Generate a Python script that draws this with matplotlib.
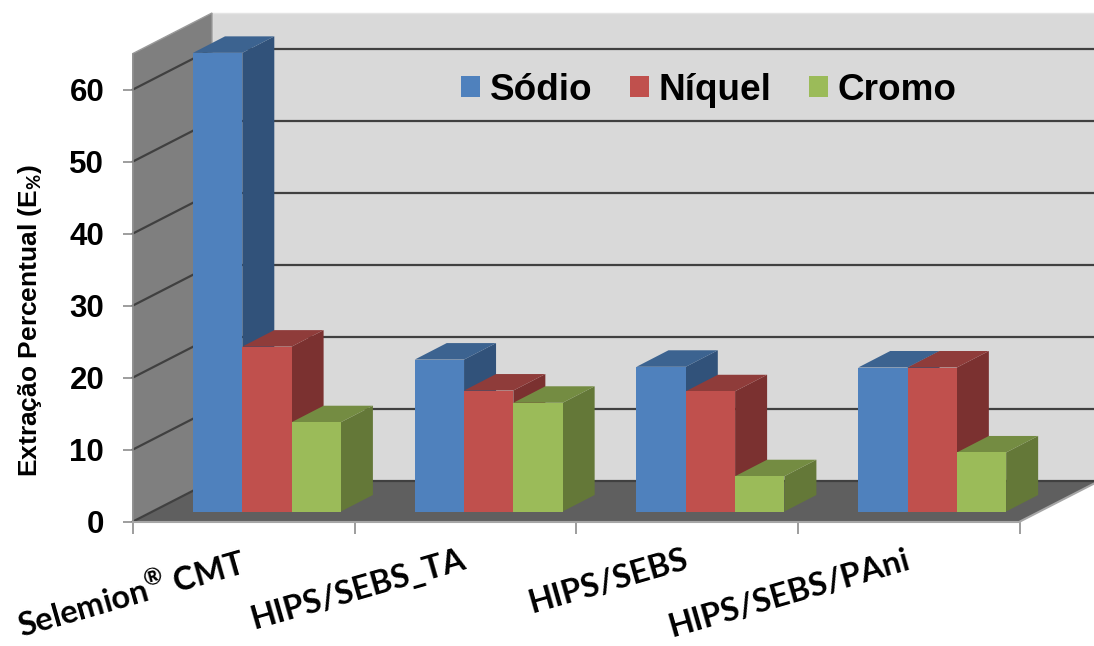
#!/usr/bin/env python3
import matplotlib
matplotlib.use("Agg")
import matplotlib.pyplot as plt
import numpy as np

categories = [r"Selemion$^{\mathbf{®}}$ CMT", "HIPS/SEBS_TA", "HIPS/SEBS", "HIPS/SEBS/PAni"]
sodio = [63.7, 21.1, 20.1, 20.0]
niquel = [22.9, 16.8, 16.7, 20.0]
cromo = [12.4, 15.1, 4.9, 8.2]
y_ticks = [0, 10, 20, 30, 40, 50, 60]

W, H = 1094, 646
X0, Y0 = 133, 521.5     # pixel position of the axis origin
PX_X = 221.75           # pixels per category
PX_Y = 7.2              # pixels per percent

# 3D look, all in data units
WALL_DX, WALL_DY = 79 / PX_X, 40.5 / PX_Y
BAR_DX, BAR_DY = 32 / PX_X, 16.5 / PX_Y
BAR_BASE = 10 / PX_Y
BAR_W = 49.3 / PX_X
GROUP_START = (193 - X0) / PX_X
TOP = 65.0

plt.rcParams["font.family"] = ["Liberation Sans", "DejaVu Sans"]
plt.rcParams["mathtext.fontset"] = "custom"
plt.rcParams["mathtext.bf"] = "Lato:bold"

fig = plt.figure(figsize=(W / 100, H / 100), dpi=100)
ax = fig.add_axes([0, 0, 1, 1])
ax.set_xlim(-X0 / PX_X, (W - X0) / PX_X)
ax.set_ylim((Y0 - H) / PX_Y, Y0 / PX_Y)
ax.patch.set_visible(False)

n = len(categories)

# walls and floor
ax.fill([WALL_DX, 10, 10, WALL_DX], [WALL_DY, WALL_DY, TOP + WALL_DY, TOP + WALL_DY],
        color="#D9D9D9", ec="#E4E4E4", lw=1, zorder=1)
ax.fill([0, WALL_DX, WALL_DX, 0], [0, WALL_DY, TOP + WALL_DY, TOP],
        color="#7F7F7F", ec="#9A9A9A", lw=1, zorder=2)
ax.fill([0, n, n + WALL_DX, WALL_DX], [0, 0, WALL_DY, WALL_DY],
        color="#5F5F5F", ec="none", zorder=2)
ax.plot([n, n + WALL_DX], [0, WALL_DY], color="#A6A6A6", lw=1.5, zorder=2)

# grid lines: side wall then back wall
for v in y_ticks:
    ax.plot([0, WALL_DX, 10], [v, v + WALL_DY, v + WALL_DY],
            color="#404040", lw=1.6, zorder=3, solid_joinstyle="miter")

series = [
    ("Sódio", sodio, "#4F81BD", "#31527A", "#3C6390"),
    ("Níquel", niquel, "#C0504D", "#7B3130", "#8F3C3A"),
    ("Cromo", cromo, "#9BBB59", "#647838", "#748C42"),
]

handles = []
z = 5
for i in range(n):
    for j, (name, values, front, side, top) in enumerate(series):
        left = i + GROUP_START + j * BAR_W
        right = left + BAR_W
        high = BAR_BASE + values[i]
        ax.fill([right, right + BAR_DX, right + BAR_DX, right],
                [BAR_BASE, BAR_BASE + BAR_DY, high + BAR_DY, high],
                color=side, ec="none", zorder=z)
        ax.fill([left, right, right + BAR_DX, left + BAR_DX],
                [high, high, high + BAR_DY, high + BAR_DY],
                color=top, ec="none", zorder=z)
        bar = ax.bar(left, values[i], BAR_W, bottom=BAR_BASE, align="edge",
                     color=front, label=name, zorder=z + 1)
        if i == 0:
            handles.append(bar)
        z += 2

# axes
for s in ["top", "right"]:
    ax.spines[s].set_visible(False)
ax.spines["left"].set_position(("data", 0))
ax.spines["bottom"].set_position(("data", 0))
ax.spines["left"].set_bounds(0, TOP)
ax.spines["bottom"].set_bounds(0, n)
ax.spines["left"].set_color("#8C8C8C")
ax.spines["bottom"].set_color("#A6A6A6")
ax.spines["left"].set_linewidth(1.2)
ax.spines["bottom"].set_linewidth(1.5)
ax.spines["left"].set_zorder(4)
ax.spines["bottom"].set_zorder(4)

ax.set_yticks(y_ticks)
ax.set_yticklabels([str(v) for v in y_ticks], fontsize=22.5, fontweight="bold")
ax.tick_params(axis="y", length=7.2, width=1.2, color="#8C8C8C", pad=13.5)

ax.set_xticks(np.arange(n + 1))
ax.set_xticklabels([])
ax.tick_params(axis="x", which="major", length=8.6, width=1.2, color="#8C8C8C")
ax.set_xticks(np.arange(n) + 0.48, minor=True)
ax.set_xticklabels(categories, minor=True, fontsize=23.5, fontweight="bold",
                   family=["Lato", "DejaVu Sans"], rotation=16, ha="right",
                   va="top", rotation_mode="anchor")
ax.tick_params(axis="x", which="minor", length=0, pad=17)

ax.set_ylabel(r"Extração Percentual (E$_{\mathbf{\%}}$)", fontsize=19, fontweight="bold")
ax.yaxis.set_label_coords(44 / W, (H - 321) / H)

ax.legend(handles=handles, loc="center", bbox_to_anchor=(709 / W, (H - 90) / H),
          ncol=3, frameon=False, prop={"weight": "bold", "size": 26.6},
          handlelength=0.51, handleheight=0.51, handletextpad=0.28, columnspacing=1.0,
          borderpad=0, borderaxespad=0)

plt.savefig("out.png", dpi=100)
plt.close()
